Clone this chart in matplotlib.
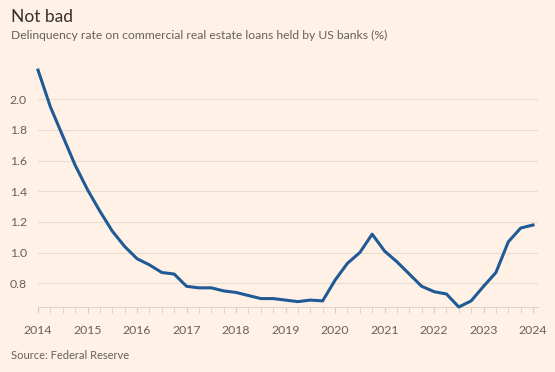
#!/usr/bin/env python3
import matplotlib.pyplot as plt
import numpy as np

# quarterly delinquency rate, 2014 Q1 .. 2024 Q1
years = np.arange(2014, 2024.01, 0.25)
rate = [2.19, 1.95, 1.76, 1.57, 1.41, 1.27, 1.14, 1.04,
        0.96, 0.92, 0.87, 0.86, 0.78, 0.77, 0.77, 0.75,
        0.74, 0.72, 0.70, 0.70, 0.69, 0.68, 0.69, 0.685,
        0.82, 0.93, 1.00, 1.12, 1.01, 0.94, 0.86, 0.78,
        0.745, 0.73, 0.645, 0.685, 0.78, 0.87, 1.07, 1.16, 1.18]
yticks = [0.8, 1.0, 1.2, 1.4, 1.6, 1.8, 2.0]
xticks = list(range(2014, 2025))

bg = '#FFF1E5'
plt.rcParams['font.family'] = ['Lato', 'DejaVu Sans']

fig = plt.figure(figsize=(5.55, 3.72), dpi=100, facecolor=bg)
ax = fig.add_axes([0.0685, 0.1747, 0.9009, 0.641], facecolor=bg)

ax.plot(years, rate, color='#1F5A96', lw=2.2, solid_joinstyle='round',
        zorder=3, clip_on=False)

ax.set_xlim(2014, 2024.1)
ax.set_ylim(0.645, 2.2)
ax.set_yticks(yticks)
ax.set_yticklabels([f'{v:.1f}' for v in yticks])
ax.set_xticks(xticks)
ax.set_xticks(np.arange(2014, 2024.01, 0.25), minor=True)
ax.grid(axis='y', color='#EADDD1', lw=0.8)

for s in ['top', 'right', 'left']:
    ax.spines[s].set_visible(False)
ax.spines['bottom'].set_color('#E0D3C8')
ax.tick_params(axis='y', length=0, labelsize=8.8, labelcolor='#66605C', pad=8)
ax.tick_params(axis='x', which='both', length=4, color='#D9CCC1', labelsize=8.8,
               labelcolor='#66605C', pad=9)

fig.text(0.02, 0.955, 'Not bad', fontsize=12.5, color='#33302E', va='center')
fig.text(0.02, 0.905, 'Delinquency rate on commercial real estate loans held by US banks (%)',
         fontsize=8.7, color='#66605C', va='center')
fig.text(0.02, 0.045, 'Source: Federal Reserve', fontsize=8, color='#66605C', va='center')

fig.savefig('out.png', dpi=100, facecolor=bg)
